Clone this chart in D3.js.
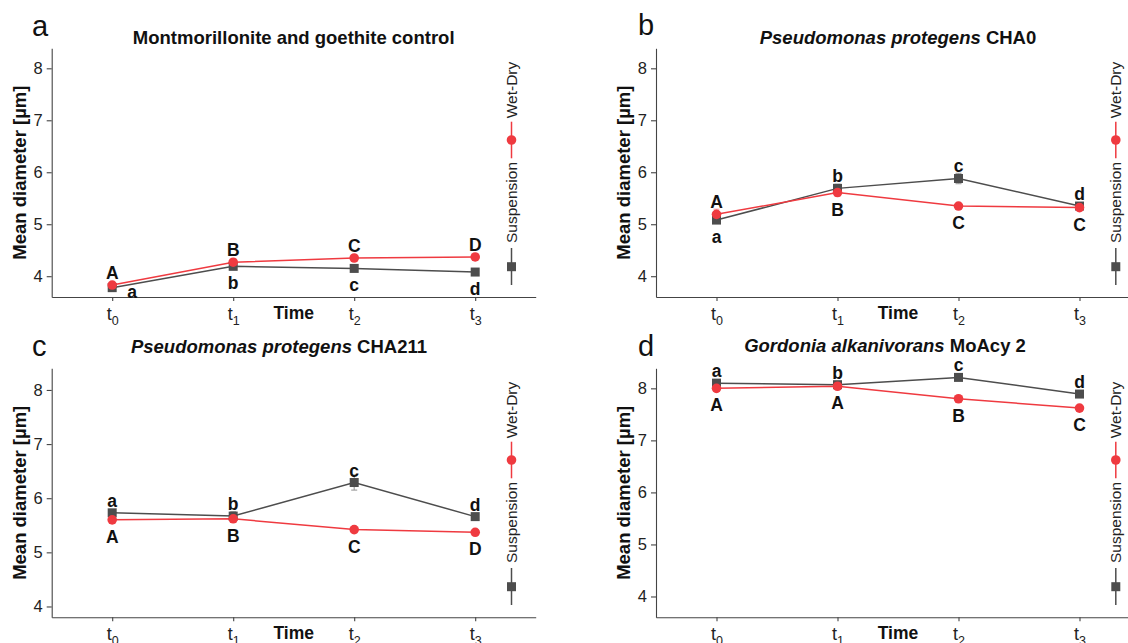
<!DOCTYPE html>
<meta charset="utf-8">
<style>
body { margin: 0; background: #fff; }
svg { display: block; background: #fff; font-family: 'Liberation Sans', Arial, sans-serif; }
.axis path, .axis line { stroke: #444; stroke-width: 1.1px; }
.axis text { fill: #222; font-size: 16.5px; }
.ylab, .title, .xlab, .sig { font-weight: bold; fill: #111; }
</style>
<svg width="1128" height="643"></svg>
<script src="https://d3js.org/d3.v7.min.js"></script>
<script>
// data
var times = ["0", "1", "2", "3"];
var panelIds = ["a", "b", "c", "d"];
var titleItalic = ["", "Pseudomonas protegens", "Pseudomonas protegens", "Gordonia alkanivorans"];
var titlePlain = ["Montmorillonite and goethite control", "CHA0", "CHA211", "MoAcy 2"];
var seriesNames = ["Wet-Dry", "Suspension"];

var wetDry = [
  [3.83, 4.27, 4.35, 4.37],
  [5.19, 5.61, 5.35, 5.32],
  [5.60, 5.62, 5.42, 5.37],
  [8.00, 8.04, 7.80, 7.62]
];
var suspension = [
  [3.78, 4.19, 4.15, 4.08],
  [5.08, 5.69, 5.88, 5.35],
  [5.73, 5.67, 6.29, 5.66],
  [8.10, 8.07, 8.21, 7.89]
];
var wetDryErr = [
  [0.03, 0.03, 0.02, 0.02],
  [0.10, 0.07, 0.04, 0.05],
  [0.05, 0.06, 0.04, 0.03],
  [0.03, 0.03, 0.03, 0.03]
];
var suspensionErr = [
  [0.02, 0.03, 0.03, 0.03],
  [0.05, 0.08, 0.10, 0.04],
  [0.05, 0.08, 0.14, 0.05],
  [0.03, 0.03, 0.03, 0.03]
];
var wetDryLetters = [
  ["A", "B", "C", "D"],
  ["A", "B", "C", "C"],
  ["A", "B", "C", "D"],
  ["A", "A", "B", "C"]
];
var suspensionLetters = [
  ["a", "b", "c", "d"],
  ["a", "b", "c", "d"],
  ["a", "b", "c", "d"],
  ["a", "b", "c", "d"]
];
var yTicks = [4, 5, 6, 7, 8];
var yDomains = [[3.6, 8.385], [3.6, 8.385], [3.8, 8.4], [3.6, 8.385]];

// layout of the four panels
var layout = [
  {left: 51.7, top: 48.3, bottom: 297, titleX: 293.7, titleY: 44, letterX: 32, letterY: 36},
  {left: 656, top: 48.3, bottom: 297, titleX: 898, titleY: 44, letterX: 638, letterY: 35},
  {left: 51.7, top: 368.3, bottom: 617.3, titleX: 279, titleY: 353, letterX: 32, letterY: 356},
  {left: 656, top: 368.3, bottom: 617.3, titleX: 885, titleY: 352, letterX: 638, letterY: 356}
];
var plotWidth = 484;

var red = "#ef3a40", grey = "#4d4d4d";

var svg = d3.select("svg");

panelIds.forEach(function(id, p) {
  var L = layout[p];
  var x = d3.scaleLinear().domain([-0.5, 3.5]).range([L.left, L.left + plotWidth]);
  var y = d3.scaleLinear().domain(yDomains[p]).range([L.bottom, L.top]);
  var g = svg.append("g");

  g.append("g")
      .attr("class", "axis")
      .attr("transform", "translate(" + L.left + ",0)")
      .call(d3.axisLeft(y).tickValues(yTicks).tickFormat(d3.format("d")).tickSize(5).tickSizeOuter(0).tickPadding(4))
      .attr("font-family", null).attr("font-size", null);

  var xa = g.append("g")
      .attr("class", "axis")
      .attr("transform", "translate(0," + L.bottom + ")")
      .call(d3.axisBottom(x).tickValues([0, 1, 2, 3]).tickSize(4).tickSizeOuter(0).tickFormat(""))
      .attr("font-family", null).attr("font-size", null);
  xa.selectAll(".tick").append("text")
      .attr("y", 23)
      .attr("text-anchor", "middle")
      .style("font-size", "18px")
      .each(function(d) {
        var t = d3.select(this);
        t.append("tspan").text("t");
        t.append("tspan").attr("dy", 5).style("font-size", "12.5px").text(times[d]);
      });

  g.append("text")
      .attr("class", "xlab")
      .attr("x", L.left + plotWidth / 2)
      .attr("y", L.bottom + 22)
      .attr("text-anchor", "middle")
      .style("font-size", "17.5px")
      .text("Time");

  g.append("text")
      .attr("class", "ylab")
      .attr("transform", "translate(" + (L.left - 32) + "," + ((L.top + L.bottom) / 2) + ") rotate(-90)")
      .attr("text-anchor", "middle")
      .attr("dy", "0.35em")
      .style("font-size", "18.5px")
      .text("Mean diameter [\u00b5m]");

  var title = g.append("text")
      .attr("class", "title")
      .attr("x", L.titleX)
      .attr("y", L.titleY)
      .attr("text-anchor", "middle")
      .style("font-size", "18.5px");
  if (titleItalic[p]) {
    title.append("tspan").style("font-style", "italic").text(titleItalic[p] + " ");
  }
  title.append("tspan").text(titlePlain[p]);

  g.append("text")
      .attr("x", L.letterX)
      .attr("y", L.letterY)
      .style("font-size", "29px")
      .style("fill", "#111")
      .text(id);

  // series
  var series = [
    {vals: wetDry[p], err: wetDryErr[p], letters: wetDryLetters[p], color: red, errColor: "#f4a0a3"},
    {vals: suspension[p], err: suspensionErr[p], letters: suspensionLetters[p], color: grey, errColor: "#9a9a9a"}
  ];
  var line = d3.line().x(function(d, i) { return x(i); }).y(function(d) { return y(d); });

  series.slice().reverse().forEach(function(s) {
    g.append("path")
        .datum(s.vals)
        .attr("d", line)
        .attr("fill", "none")
        .attr("stroke", s.color)
        .attr("stroke-width", 1.5);
  });

  series.forEach(function(s) {
    var eb = g.append("g").selectAll("g").data(s.vals).enter().append("g")
        .attr("stroke", s.errColor).attr("stroke-width", 1.1);
    eb.append("line")
        .attr("x1", function(d, i) { return x(i); }).attr("x2", function(d, i) { return x(i); })
        .attr("y1", function(d, i) { return y(d - s.err[i]); })
        .attr("y2", function(d, i) { return y(d + s.err[i]); });
    eb.append("line")
        .attr("x1", function(d, i) { return x(i) - 3; }).attr("x2", function(d, i) { return x(i) + 3; })
        .attr("y1", function(d, i) { return y(d - s.err[i]); })
        .attr("y2", function(d, i) { return y(d - s.err[i]); });
    eb.append("line")
        .attr("x1", function(d, i) { return x(i) - 3; }).attr("x2", function(d, i) { return x(i) + 3; })
        .attr("y1", function(d, i) { return y(d + s.err[i]); })
        .attr("y2", function(d, i) { return y(d + s.err[i]); });
  });

  g.append("g").selectAll("rect").data(series[1].vals).enter().append("rect")
      .attr("x", function(d, i) { return x(i) - 4.5; })
      .attr("y", function(d) { return y(d) - 4.5; })
      .attr("width", 9).attr("height", 9)
      .attr("fill", grey);
  g.append("g").selectAll("circle").data(series[0].vals).enter().append("circle")
      .attr("cx", function(d, i) { return x(i); })
      .attr("cy", function(d) { return y(d); })
      .attr("r", 4.8)
      .attr("fill", red);

  // significance letters: above the higher point, below the lower one
  times.forEach(function(t, i) {
    var wUp = wetDry[p][i] >= suspension[p][i];
    [0, 1].forEach(function(k) {
      var s = series[k];
      var up = (k === 0) === wUp;
      var py = y(s.vals[i]);
      var tx = x(i), ty = up ? py - 6 : py + 23;
      if (!up && ty > L.bottom + 3) { tx = x(i) + 20; ty = py + 10; }
      g.append("text")
          .attr("class", "sig")
          .attr("x", tx).attr("y", ty)
          .attr("text-anchor", "middle")
          .style("font-size", "17.5px")
          .text(s.letters[i]);
    });
  });

  // legend (vertical, inside the panel)
  var lx = x(3.3), lt = L.top;
  var leg = g.append("g");
  leg.append("text")
      .attr("transform", "translate(" + lx + "," + (lt + 41.7) + ") rotate(-90)")
      .attr("text-anchor", "middle").attr("dy", "0.35em")
      .style("font-size", "15.5px").style("fill", "#222")
      .text(seriesNames[0]);
  leg.append("line")
      .attr("x1", lx).attr("x2", lx).attr("y1", lt + 73.4).attr("y2", lt + 110)
      .attr("stroke", red).attr("stroke-width", 1.5);
  leg.append("circle")
      .attr("cx", lx).attr("cy", lt + 91.7).attr("r", 4.8).attr("fill", red);
  leg.append("text")
      .attr("transform", "translate(" + lx + "," + (lt + 154.2) + ") rotate(-90)")
      .attr("text-anchor", "middle").attr("dy", "0.35em")
      .style("font-size", "15.5px").style("fill", "#222")
      .text(seriesNames[1]);
  leg.append("line")
      .attr("x1", lx).attr("x2", lx).attr("y1", lt + 199.7).attr("y2", lt + 236.7)
      .attr("stroke", grey).attr("stroke-width", 1.5);
  leg.append("rect")
      .attr("x", lx - 4.5).attr("y", lt + 218.4 - 4.5).attr("width", 9).attr("height", 9)
      .attr("fill", grey);
});
</script>
